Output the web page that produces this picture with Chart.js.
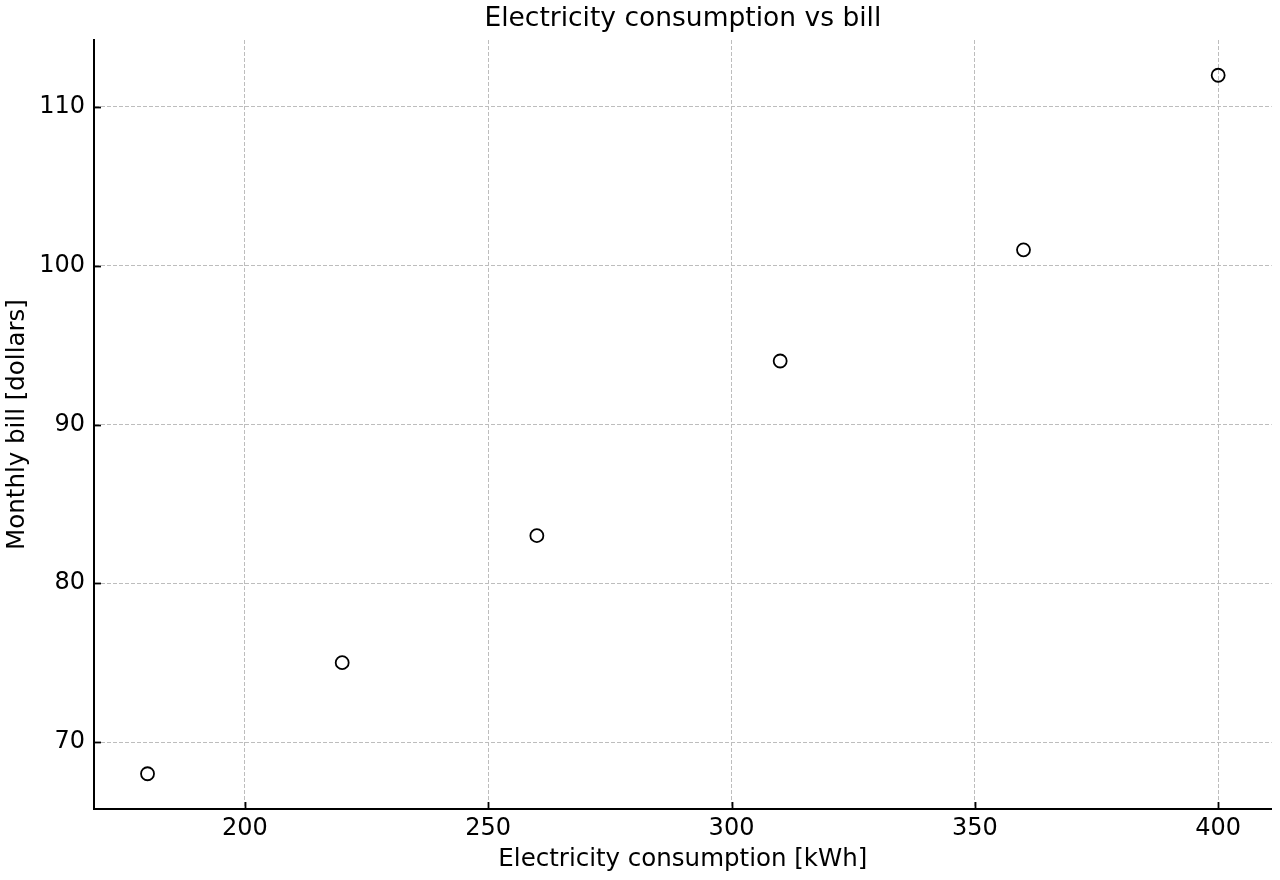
<!DOCTYPE html>
<html>
<head>
<meta charset="utf-8">
<script src="https://cdn.jsdelivr.net/npm/chart.js@4/dist/chart.umd.min.js"></script>
<style>
  html, body { margin: 0; padding: 0; background: #fff; }
  #wrap { width: 1280px; height: 880px; }
</style>
</head>
<body>
<div id="wrap"><canvas id="c" width="1280" height="880"></canvas></div>
<script>
const consumptionKWh = [180, 220, 260, 310, 360, 400];
const monthlyBill = [68, 75, 83, 94, 101, 112];
const chartTitle = 'Electricity consumption vs bill';
const xAxisTitle = 'Electricity consumption [kWh]';
const yAxisTitle = 'Monthly bill [dollars]';

const FONT = "'DejaVu Sans', sans-serif";

const inwardTicks = {
  id: 'inwardTicks',
  afterDatasetsDraw(chart) {
    const ctx = chart.ctx;
    const xs = chart.scales.x, ys = chart.scales.y;
    const area = chart.chartArea;
    ctx.save();
    ctx.strokeStyle = '#000';
    ctx.lineWidth = 1.8;
    xs.ticks.forEach((t) => {
      const px = Math.round(xs.getPixelForValue(t.value)) + 0.5;
      ctx.beginPath();
      ctx.moveTo(px, area.bottom);
      ctx.lineTo(px, area.bottom - 7);
      ctx.stroke();
    });
    ys.ticks.forEach((t) => {
      const py = Math.round(ys.getPixelForValue(t.value)) + 0.5;
      ctx.beginPath();
      ctx.moveTo(area.left, py);
      ctx.lineTo(area.left + 7, py);
      ctx.stroke();
    });
    ctx.restore();
  }
};

new Chart(document.getElementById('c'), {
  type: 'scatter',
  data: {
    datasets: [{
      data: consumptionKWh.map((x, i) => ({ x: x, y: monthlyBill[i] })),
      pointRadius: 6.5,
      pointHoverRadius: 6.5,
      pointBorderWidth: 1.8,
      pointBorderColor: '#000',
      pointBackgroundColor: 'rgba(0,0,0,0)',
      showLine: false
    }]
  },
  options: {
    responsive: false,
    animation: false,
    devicePixelRatio: 1,
    layout: { padding: { left: 1, right: 4, top: 0, bottom: 0 } },
    plugins: {
      legend: { display: false },
      tooltip: { enabled: false },
      title: {
        display: true,
        fullSize: false,
        text: chartTitle,
        color: '#000',
        font: { family: FONT, size: 26.5, weight: 'normal', lineHeight: 1.2 },
        padding: { top: 3, bottom: 5.2 }
      }
    },
    scales: {
      x: {
        type: 'linear',
        min: 169,
        max: 411,
        afterFit(scale) { scale.height = 71; },
        ticks: {
          stepSize: 50,
          includeBounds: false,
          color: '#000',
          padding: 5,
          maxRotation: 0,
          font: { family: FONT, size: 24 }
        },
        grid: {
          color: '#bdbdbd',
          lineWidth: 1,
          drawTicks: false,
          tickLength: 0
        },
        border: { display: true, color: '#000', width: 2, dash: [4, 2] },
        title: {
          display: true,
          text: xAxisTitle,
          color: '#000',
          font: { family: FONT, size: 24.5, lineHeight: 1.2 },
          padding: { top: 0, bottom: 5.3 }
        }
      },
      y: {
        type: 'linear',
        min: 65.78,
        max: 114.22,
        afterFit(scale) { scale.width = 93; },
        ticks: {
          stepSize: 10,
          includeBounds: false,
          color: '#000',
          padding: 9,
          font: { family: FONT, size: 24 }
        },
        grid: {
          color: '#bdbdbd',
          lineWidth: 1,
          drawTicks: false,
          tickLength: 0
        },
        border: { display: true, color: '#000', width: 2, dash: [4, 2] },
        title: {
          display: true,
          text: yAxisTitle,
          color: '#000',
          font: { family: FONT, size: 24.5, lineHeight: 1.2 },
          padding: { top: 2.3, bottom: 0 }
        }
      }
    }
  },
  plugins: [inwardTicks]
});
</script>
</body>
</html>
